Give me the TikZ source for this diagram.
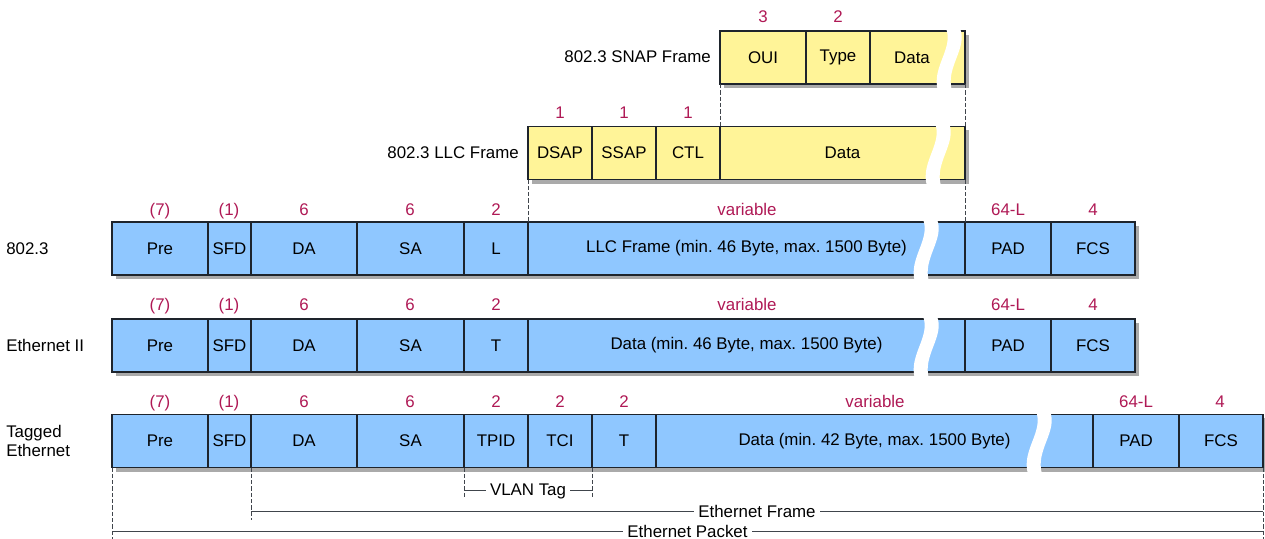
\documentclass[tikz,border=0pt]{standalone}
\usepackage{fontspec}
\setmainfont{Liberation Sans}
\usetikzlibrary{shadows}

\definecolor{fieldblue}{RGB}{143,199,255}
\definecolor{fieldyellow}{RGB}{255,244,152}
\definecolor{bytered}{RGB}{175,25,85}
\definecolor{shadowgray}{RGB}{170,170,170}
\definecolor{edge}{RGB}{30,36,44}

\begin{document}
\begin{tikzpicture}[x=0.025cm, y=-0.025cm, font=\fontsize{12}{14}\selectfont,
  cell/.style={draw=edge, line width=0.8pt, inner sep=0pt, outer sep=0pt,
    minimum height=1.325cm, minimum width=(#1)*0.025cm,
    drop shadow={shadow xshift=0.1cm, shadow yshift=-0.1cm, fill=shadowgray, opacity=1}},
  bytes/.style={text=bytered, anchor=base, inner sep=0pt},
  rowlabel/.style={inner sep=0pt, align=left},
  guide/.style={draw=edge!85, line width=0.5pt, dash pattern=on 3pt off 1.5pt},
  dim/.style={draw=edge!85, line width=0.6pt},
  dimtext/.style={fill=white, inner xsep=3pt, inner ysep=0pt, text depth=0pt}]

  \useasboundingbox (0,0) rectangle (1265,539);

  % SNAP-Rahmen
  \node[rowlabel, anchor=east] (snapLabel) at (711,57) {802.3 SNAP Frame};
  \foreach \a/\b/\t/\nm in {720/806/OUI/OUI, 806/870/Type/Type, 870/965/{}/Data}
    \node[cell=\b-\a, fill=fieldyellow] (s\nm) at ({(\a+\b)/2},57.5) {\t};
  \node (sDataText) at (912,57.5) {Data};
  \foreach \x/\n in {763/3, 838/2}
    \node[bytes] (sn\x) at (\x,23) {\n};

  % LLC-Rahmen
  \node[rowlabel, anchor=east] (llcLabel) at (519,153) {802.3 LLC Frame};
  \foreach \a/\b/\t in {528/592/DSAP, 592/656/SSAP, 656/720/CTL, 720/965/Data}
    \node[cell=\b-\a, fill=fieldyellow] (l\t) at ({(\a+\b)/2},153) {\t};
  \foreach \x/\n in {560/1, 624/1, 688/1}
    \node[bytes] (ln\x) at (\x,118) {\n};

  % 802.3
  \node[rowlabel, anchor=west] (rawLabel) at (6,249) {802.3};
  \foreach \a/\b/\t/\nm in {112/208/Pre/Pre, 208/251/SFD/SFD, 251/357/DA/DA,
      357/464/SA/SA, 464/528/L/L, 528/965/{LLC Frame (min.\ 46 Byte, max.\ 1500 Byte)}/LLC,
      965/1051/PAD/PAD, 1051/1135/FCS/FCS}
    \node[cell=\b-\a, fill=fieldblue] (a\nm) at ({(\a+\b)/2},248.5) {\t};
  \foreach \x/\n in {160/{(7)}, 229/{(1)}, 304/6, 410/6, 496/2, 747/variable, 1008/64-L, 1093/4}
    \node[bytes] (an\x) at (\x,215) {\n};

  % Ethernet II
  \node[rowlabel, anchor=west] (ethLabel) at (6,345) {Ethernet II};
  \foreach \a/\b/\t/\nm in {112/208/Pre/Pre, 208/251/SFD/SFD, 251/357/DA/DA,
      357/464/SA/SA, 464/528/T/T, 528/965/{Data (min.\ 46 Byte, max.\ 1500 Byte)}/Data,
      965/1051/PAD/PAD, 1051/1135/FCS/FCS}
    \node[cell=\b-\a, fill=fieldblue] (e\nm) at ({(\a+\b)/2},345.5) {\t};
  \foreach \x/\n in {160/{(7)}, 229/{(1)}, 304/6, 410/6, 496/2, 747/variable, 1008/64-L, 1093/4}
    \node[bytes] (en\x) at (\x,310) {\n};

  % Tagged Ethernet
  \node[rowlabel, anchor=west] (tagLabel) at (6,441) {Tagged\\Ethernet};
  \foreach \a/\b/\t/\nm in {112/208/Pre/Pre, 208/251/SFD/SFD, 251/357/DA/DA,
      357/464/SA/SA, 464/528/TPID/TPID, 528/592/TCI/TCI, 592/656/T/T,
      656/1093/{Data (min.\ 42 Byte, max.\ 1500 Byte)}/Data,
      1093/1179/PAD/PAD, 1179/1263/FCS/FCS}
    \node[cell=\b-\a, fill=fieldblue] (t\nm) at ({(\a+\b)/2},441) {\t};
  \foreach \x/\n in {160/{(7)}, 229/{(1)}, 304/6, 410/6, 496/2, 560/2, 624/2, 875/variable, 1136/64-L, 1220/4}
    \node[bytes] (tn\x) at (\x,407) {\n};

  % Unterbrechungen
  \foreach \c/\t in {949/31, 938/126, 926/222, 926/319, 1039/414}
    \fill[white] ({\c-3},{\t-3}) .. controls ({\c+5},{\t+18}) and ({\c-18},{\t+36}) .. ({\c-11},{\t+60})
      -- ({\c+3},{\t+60}) .. controls ({\c-4},{\t+36}) and ({\c+19},{\t+18}) .. ({\c+11},{\t-3}) -- cycle;

  % Hilfslinien oben
  \draw[guide] (sOUI.south west) -- (lData.north west);
  \draw[guide] (sData.south east) -- (lData.north east);
  \draw[guide] (lDSAP.south west) -- (aLLC.north west);
  \draw[guide] (lData.south east) -- (aLLC.north east);

  % Hilfslinien unten
  \coordinate (yVlan) at (0,490);
  \coordinate (yShort) at (0,499);
  \coordinate (yFrame) at (0,511);
  \coordinate (yMid) at (0,520);
  \coordinate (yPacket) at (0,531.5);
  \coordinate (yEnd) at (0,539);
  \draw[guide] (tPre.south west) -- (tPre.south west |- yEnd);
  \draw[guide] (tSFD.south east) -- (tSFD.south east |- yMid);
  \draw[guide] (tTPID.south west) -- (tTPID.south west |- yShort);
  \draw[guide] (tTCI.south east) -- (tTCI.south east |- yShort);
  \draw[guide] (tFCS.south east) -- (tFCS.south east |- yEnd);

  % Bemaßung
  \draw[dim] (tTPID.south west |- yVlan) -- node[dimtext] (vlan) {VLAN Tag} (tTCI.south east |- yVlan);
  \draw[dim] (tSFD.south east |- yFrame) -- node[dimtext] (frame) {Ethernet Frame} (tFCS.south east |- yFrame);
  \draw[dim] (tPre.south west |- yPacket) -- node[dimtext] (packet) {Ethernet Packet} (tFCS.south east |- yPacket);

\end{tikzpicture}
\end{document}
